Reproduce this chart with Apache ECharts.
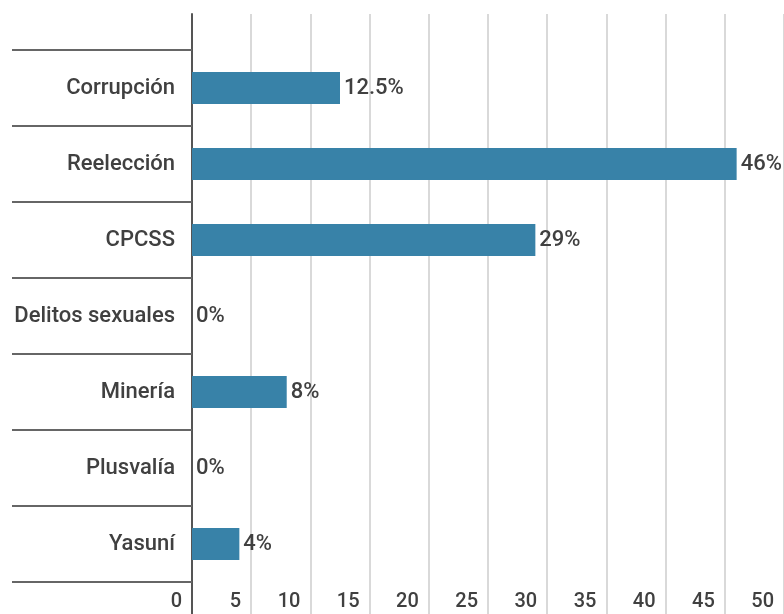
<!DOCTYPE html>
<html>
<head>
<meta charset="utf-8">
<script src="https://cdn.jsdelivr.net/npm/echarts@6/dist/echarts.min.js"></script>
<style>
  html, body { margin: 0; padding: 0; background: #fff; }
  #chart { width: 784px; height: 614px; }
</style>
</head>
<body>
<div id="chart"></div>
<script>
const categories = ['Corrupción', 'Reelección', 'CPCSS', 'Delitos sexuales', 'Minería', 'Plusvalía', 'Yasuní'];
const values = [12.5, 46, 29, 0, 8, 0, 4];
const xMin = 0;
const xMax = 50;
const xStep = 5;

const chart = echarts.init(document.getElementById('chart'));

const textColor = '#404040';
const font = 'Roboto, "Noto Sans", sans-serif';

const option = {
  animation: false,
  grid: [
    // bars
    { left: 192, right: -6, top: 50, height: 532 },
    // long grid lines behind, running past the category block
    { left: 192, right: -6, top: 14, bottom: -20 }
  ],
  xAxis: [
    {
      gridIndex: 0,
      type: 'value',
      min: xMin,
      max: xMax,
      interval: xStep,
      axisLine: { show: false },
      axisTick: { show: false },
      splitLine: { show: false },
      axisLabel: {
        color: textColor,
        fontFamily: font,
        fontSize: 20,
        fontWeight: 500,
        align: 'right',
        padding: [0, 10, 0, 0],
        margin: 10
      }
    },
    {
      gridIndex: 1,
      type: 'value',
      min: xMin,
      max: xMax,
      interval: xStep,
      axisLine: { show: false },
      axisTick: { show: false },
      axisLabel: { show: false },
      splitLine: { lineStyle: { color: '#cccccc', width: 1.5 } }
    }
  ],
  yAxis: [
    {
      gridIndex: 0,
      type: 'category',
      data: categories,
      inverse: true,
      axisLine: { show: false },
      axisTick: {
        show: true,
        length: 180,
        lineStyle: { color: '#666666', width: 2 }
      },
      axisLabel: {
        color: textColor,
        fontFamily: font,
        fontSize: 22,
        fontWeight: 500,
        margin: 17
      }
    },
    {
      gridIndex: 1,
      type: 'value',
      axisLine: { show: true, lineStyle: { color: '#555555', width: 2 } },
      axisTick: { show: false },
      axisLabel: { show: false },
      splitLine: { show: false }
    }
  ],
  series: [
    {
      type: 'bar',
      xAxisIndex: 0,
      yAxisIndex: 0,
      data: values,
      barWidth: 32,
      itemStyle: { color: '#3882a8' },
      label: {
        show: true,
        position: 'right',
        distance: 4,
        formatter: '{c}%',
        color: textColor,
        fontFamily: font,
        fontSize: 22,
        fontWeight: 500
      }
    }
  ]
};

chart.setOption(option);
</script>
</body>
</html>
